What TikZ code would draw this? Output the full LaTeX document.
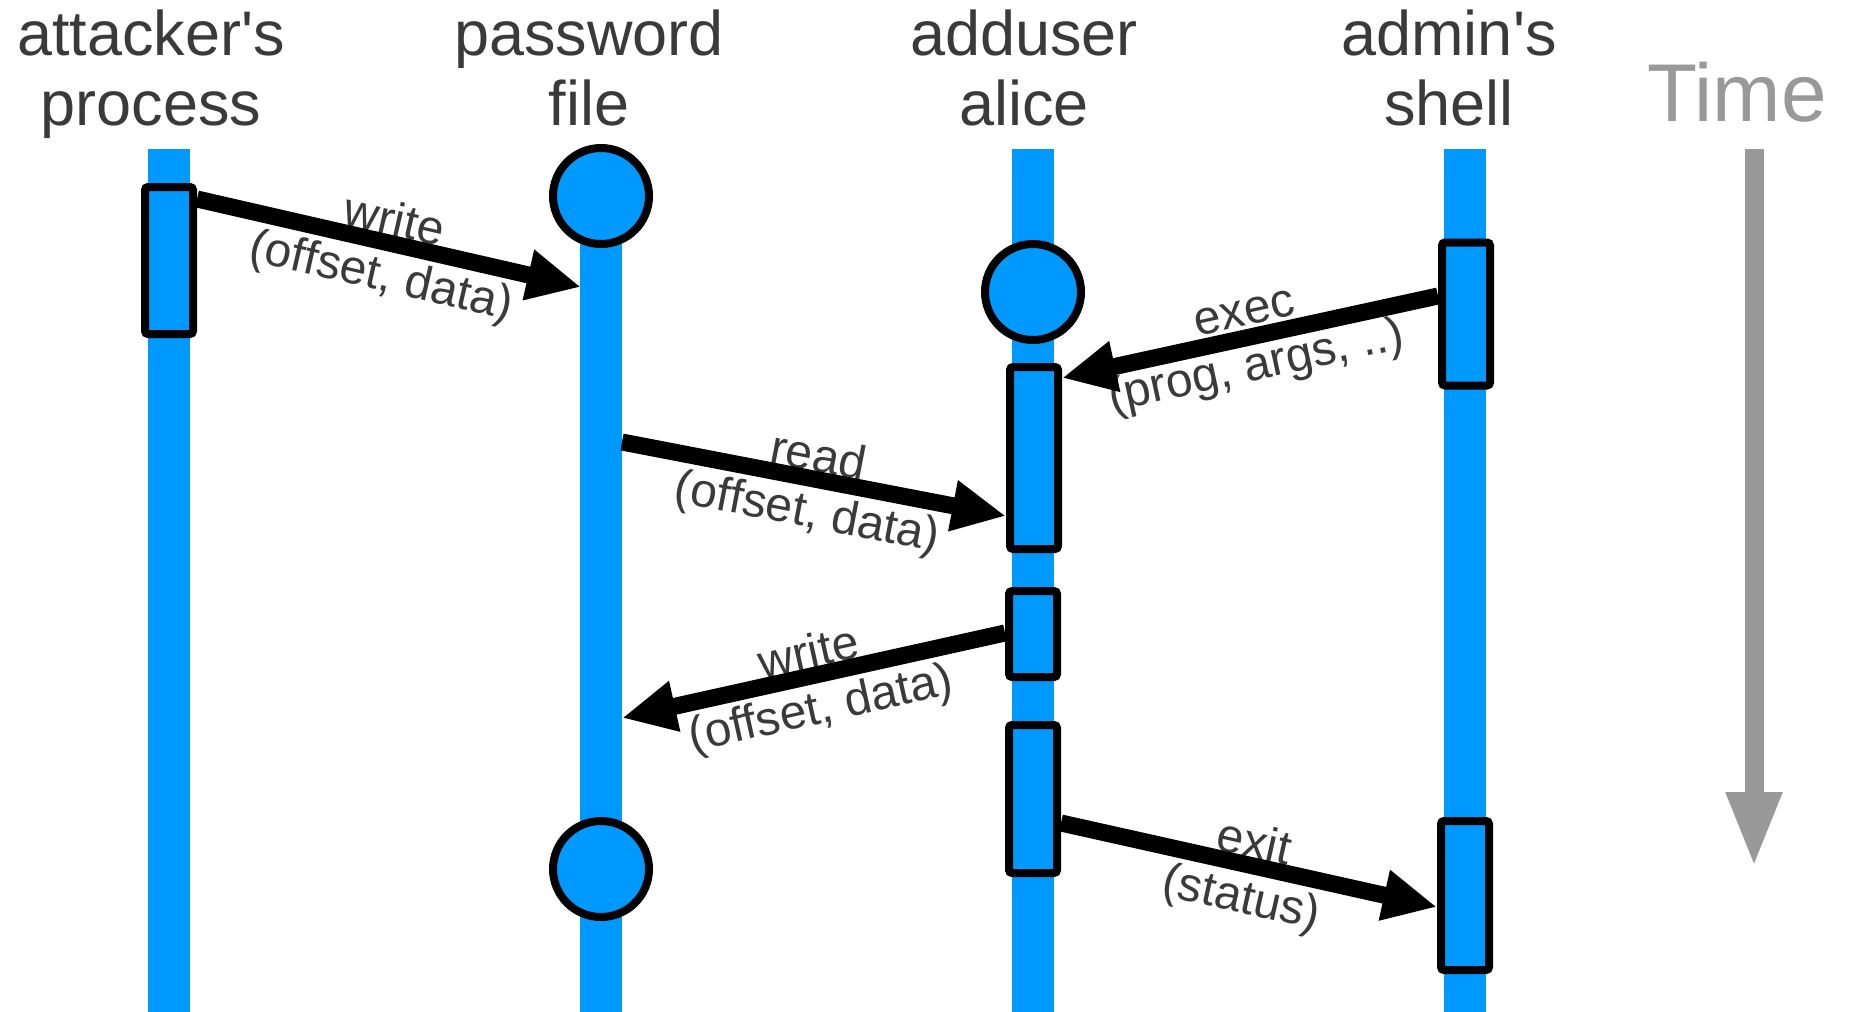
\documentclass[tikz,border=0pt]{standalone}
\usepackage{fontspec}
\setmainfont{Liberation Sans}
\usetikzlibrary{arrows.meta}

\definecolor{lifeblue}{HTML}{0099FF}
\definecolor{inkgray}{HTML}{3A3A3A}
\definecolor{timegray}{HTML}{999999}

\begin{document}
\begin{tikzpicture}[x=1pt, y=-1pt,
    lifeline/.style={lifeblue, line width=42pt},
    actbox/.style={draw=black, fill=lifeblue, line width=8pt, rounded corners=3pt,
        minimum width=48pt, inner sep=0pt},
    objdot/.style={circle, draw=black, fill=lifeblue, line width=8pt,
        minimum size=96pt, inner sep=0pt},
    header/.style={inkgray, align=center, anchor=base, font=\fontsize{63}{70}\selectfont},
    msg/.style={line width=17pt, -{Triangle[length=54pt, width=48pt]}},
    call/.style={sloped, midway, behind path, yshift=-8pt, inkgray, align=center,
        font=\fontsize{48}{56}\selectfont},
]
    \useasboundingbox (0,0) rectangle (1850,1012);

    % Lifelines
    \foreach \x in {169, 601, 1033, 1465}
        \draw[lifeline] (\x,149) -- (\x,1012);

    % Headers (base = last line)
    \node[header] (hatk) at (151,125) {attacker\textquotesingle s\\process};
    \node[header] (hpw) at (589,125) {password\\file};
    \node[header] (hadd) at (1024,125) {adduser\\alice};
    \node[header] (hadm) at (1449,125) {admin\textquotesingle s\\shell};

    % Time axis
    \node[timegray, font=\fontsize{82}{82}\selectfont, anchor=base] (htime) at (1737,121) {Time};
    \coordinate (tstart) at (1754,149);
    \coordinate (tend) at (1754,868);
    \draw[timegray, line width=19pt, -{Triangle[length=76pt, width=51pt]}] (tstart) -- (tend);

    % Objects created / touched
    \node[objdot] (pwfile) at (601,196) {};
    \node[objdot] (pwfile2) at (601,869) {};
    \node[objdot] (adduser) at (1033,292) {};

    % Activation boxes
    \node[actbox, minimum height=147pt] (atkact) at (169,260.5) {};
    \node[actbox, minimum height=143pt] (adm1) at (1466,314) {};
    \node[actbox, minimum height=182pt] (add1) at (1034,458) {};
    \node[actbox, minimum height=86pt] (add2) at (1033,634) {};
    \node[actbox, minimum height=148pt] (add3) at (1033,799) {};
    \node[actbox, minimum height=149pt] (adm2) at (1465,895.5) {};

    % Messages
    \coordinate (pwin1) at (581,287);
    \coordinate (pwout1) at (622,442);
    \coordinate (pwin2) at (622,718);
    \draw[msg] ([yshift=-16pt]atkact.north east) -- node[call] {write\\(offset, data)} (pwin1);
    \draw[msg] ([yshift=-57.5pt]adm1.north west) -- node[call] {exec\\(prog, args, ..)} ([yshift=-15pt]add1.north east);
    \draw[msg] (pwout1) -- node[call] {read\\(offset, data)} ([yshift=-153pt]add1.north west);
    \draw[msg] ([yshift=-46pt]add2.north west) -- node[call] {write\\(offset, data)} (pwin2);
    \draw[msg] ([yshift=-102pt]add3.north east) -- node[call] {exit\\(status)} ([yshift=-90pt]adm2.north west);
\end{tikzpicture}
\end{document}
